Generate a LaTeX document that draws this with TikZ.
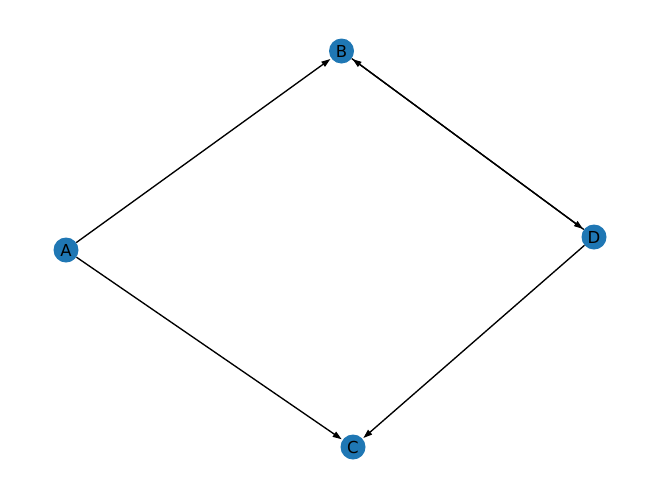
\documentclass[tikz,border=0pt]{standalone}
\usepackage{fontspec}
\setmainfont{DejaVu Sans}
\usetikzlibrary{arrows.meta}
\definecolor{nodeblue}{HTML}{1F77B4}
\tikzset{
  vertex/.style={circle, fill=nodeblue, minimum size=25pt, inner sep=0pt, font=\fontsize{16.5}{20}\selectfont, text=black},
  edge/.style={draw=black, line width=1.35pt, -{Stealth[length=9pt,width=6pt,inset=0pt]}, shorten >=1pt}
}
\begin{document}
\begin{tikzpicture}[x=1pt,y=-1pt]
\useasboundingbox (0,0) rectangle (660,499);
\node[vertex] (A) at (66,250) {A};
\node[vertex] (B) at (341.5,51) {B};
\node[vertex] (C) at (353,447) {C};
\node[vertex] (D) at (594,237) {D};
\draw[edge] (A) -- (B);
\draw[edge] (A) -- (C);
\draw[edge] (D) -- (C);
\draw[edge] (B) -- (D);
\draw[edge] (D) -- (B);
\end{tikzpicture}
\end{document}
